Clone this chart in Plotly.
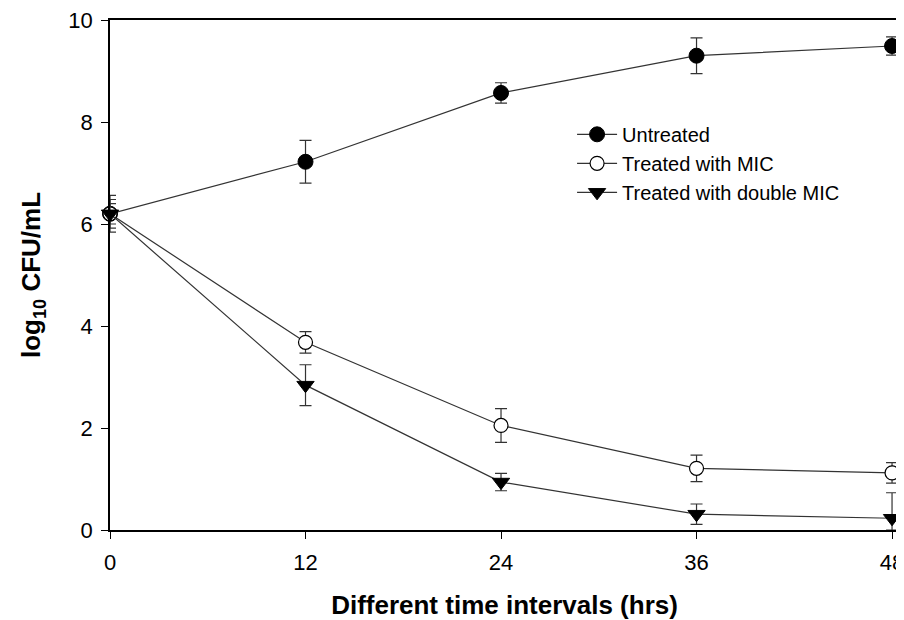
import plotly.graph_objects as go

time_hrs = [0, 12, 24, 36, 48]
untreated = [6.2, 7.22, 8.57, 9.3, 9.49]
untreated_err = [0.36, 0.42, 0.2, 0.35, 0.18]
mic = [6.2, 3.68, 2.05, 1.21, 1.12]
mic_err = [0.28, 0.21, 0.33, 0.26, 0.2]
double_mic = [6.2, 2.84, 0.94, 0.31, 0.23]
double_mic_err_plus = [0.2, 0.4, 0.17, 0.2, 0.5]
double_mic_err_minus = [0.2, 0.4, 0.17, 0.2, 0.23]

x_ticks = [0, 12, 24, 36, 48]
y_ticks = [0, 2, 4, 6, 8, 10]

line_col = "#333333"
err_style = dict(type="data", thickness=1.2, width=6, color="#333333")

fig = go.Figure()
fig.add_trace(go.Scatter(
    x=time_hrs, y=untreated, name="Untreated", mode="lines+markers",
    line=dict(color=line_col, width=1.2),
    marker=dict(symbol="circle", size=15, color="black", line=dict(color="black", width=1)),
    error_y=dict(array=untreated_err, **err_style), cliponaxis=False))
fig.add_trace(go.Scatter(
    x=time_hrs, y=mic, name="Treated with MIC", mode="lines+markers",
    line=dict(color=line_col, width=1.2),
    marker=dict(symbol="circle", size=14, color="white", line=dict(color="black", width=1.2)),
    error_y=dict(array=mic_err, **err_style), cliponaxis=False))
fig.add_trace(go.Scatter(
    x=time_hrs, y=double_mic, name="Treated with double MIC", mode="lines+markers",
    line=dict(color=line_col, width=1.2),
    marker=dict(symbol="triangle-down", size=15, color="black", line=dict(color="black", width=1)),
    error_y=dict(array=double_mic_err_plus, arrayminus=double_mic_err_minus, symmetric=False, **err_style),
    cliponaxis=False))

# page has an 8px body margin: figure origin sits at (8, 8)
fig.update_layout(
    width=896, height=612,
    margin=dict(l=102, r=0, t=11, b=90),
    paper_bgcolor="white", plot_bgcolor="white",
    font=dict(family="Arial, Liberation Sans, sans-serif", color="black"),
    showlegend=True,
    legend=dict(x=(575 - 110) / 794, y=(530 - 114) / 511, xanchor="left", yanchor="top",
                font=dict(size=20, color="black"), bgcolor="rgba(0,0,0,0)",
                tracegroupgap=0, itemwidth=40),
    xaxis=dict(range=[0, 48 * 794 / 787], tickvals=x_ticks, ticktext=[str(v) for v in x_ticks],
               showgrid=False, zeroline=False, showline=True, linecolor="black", linewidth=1.5,
               mirror=True, ticks="outside", ticklen=7, tickcolor="black", tickwidth=1.2,
               tickfont=dict(size=22), ticklabeloverflow="allow", ticklabelstandoff=5,
               title=dict(text="<b>Different time intervals (hrs)</b>", font=dict(size=26), standoff=24)),
    yaxis=dict(range=[0, 10], tickvals=y_ticks, ticktext=[str(v) for v in y_ticks],
               showgrid=False, zeroline=False, showline=True, linecolor="black", linewidth=1.5,
               ticks="outside", ticklen=7, tickcolor="black", tickwidth=1.2,
               tickfont=dict(size=22), ticklabeloverflow="allow", ticklabelstandoff=4,
               title=dict(text="<b>log<sub>10</sub> CFU/mL</b>", font=dict(size=26), standoff=20)),
)

fig.write_html("out.html")
